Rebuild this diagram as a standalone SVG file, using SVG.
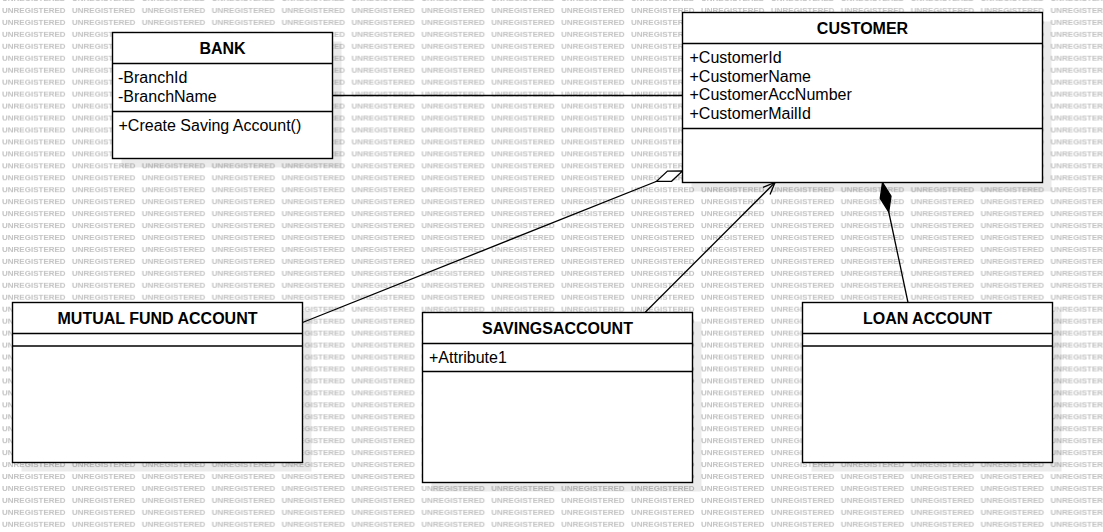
<svg xmlns="http://www.w3.org/2000/svg" width="1103" height="532" viewBox="0 0 1103 532">
<style>
.wm{font-family:"Liberation Sans",Arial,sans-serif;font-size:8px;font-weight:bold;fill:#c2c2c2}
.box{fill:#fff;stroke:#000;stroke-width:1.4}
.sh{fill:#000;fill-opacity:0.08}
.sep{stroke:#000;stroke-width:1.4}
.title{font-family:"Liberation Sans",Arial,sans-serif;font-size:16px;font-weight:bold;fill:#000;text-anchor:middle}
.attr{font-family:"Liberation Sans",Arial,sans-serif;font-size:16px;fill:#000}
.conn{stroke:#000;stroke-width:1.3;fill:none}
</style>
<defs>
<pattern id="wmp" patternUnits="userSpaceOnUse" x="2" y="4" width="69.9" height="11.95">
<text class="wm" x="0" y="8.9">UNREGISTERED</text>
</pattern>
<marker id="hollowDiamond" markerUnits="userSpaceOnUse" markerWidth="30" markerHeight="12" refX="28" refY="0" orient="auto" style="overflow:visible">
<path d="M0,0 L14,-5.5 L28,0 L14,5.5 Z" fill="#fff" stroke="#000" stroke-width="1.3"/>
</marker>
<marker id="filledDiamond" markerUnits="userSpaceOnUse" markerWidth="32" markerHeight="12" refX="30" refY="0" orient="auto" style="overflow:visible">
<path d="M0,0 L15,-5.5 L30,0 L15,5.5 Z" fill="#000" stroke="#000" stroke-width="1.3"/>
</marker>
<marker id="openArrow" markerUnits="userSpaceOnUse" markerWidth="14" markerHeight="12" refX="0" refY="0" orient="auto" style="overflow:visible">
<path d="M-12,-5 L0,0 L-12,5" fill="none" stroke="#000" stroke-width="1.3"/>
</marker>
</defs>
<rect x="0" y="0" width="1103" height="532" fill="#fff"/>
<rect x="0" y="0" width="1103" height="532" fill="url(#wmp)"/>

<g id="connectors">
<line class="conn" x1="332.5" y1="95.5" x2="682.5" y2="95.5"/>
<line class="conn" x1="302.5" y1="322.5" x2="682.5" y2="171" marker-end="url(#hollowDiamond)"/>
<line class="conn" x1="645" y1="312.5" x2="775" y2="182.5" marker-end="url(#openArrow)"/>
<line class="conn" x1="908" y1="302.5" x2="882.5" y2="182.5" marker-end="url(#filledDiamond)"/>
</g>

<g id="bank">
<rect class="sh" x="121.5" y="41.5" width="220" height="126"/>
<rect class="box" x="112.5" y="32.5" width="220" height="126"/>
<line class="sep" x1="112.5" y1="63.5" x2="332.5" y2="63.5"/>
<line class="sep" x1="112.5" y1="111.5" x2="332.5" y2="111.5"/>
<text class="title" x="222.5" y="54.3">BANK</text>
<text class="attr" x="118" y="83.3">-BranchId</text>
<text class="attr" x="118" y="101.5">-BranchName</text>
<text class="attr" x="118.5" y="130.5">+Create Saving Account()</text>
</g>

<g id="customer">
<rect class="sh" x="691.5" y="21.5" width="360" height="170"/>
<rect class="box" x="682.5" y="12.5" width="360" height="170"/>
<line class="sep" x1="682.5" y1="43.5" x2="1042.5" y2="43.5"/>
<line class="sep" x1="682.5" y1="128.5" x2="1042.5" y2="128.5"/>
<text class="title" x="862.5" y="34">CUSTOMER</text>
<text class="attr" x="689.5" y="63.3">+CustomerId</text>
<text class="attr" x="689.5" y="81.8">+CustomerName</text>
<text class="attr" x="689.5" y="100.3">+CustomerAccNumber</text>
<text class="attr" x="689.5" y="118.8">+CustomerMailId</text>
</g>

<g id="mutual-fund-account">
<rect class="sh" x="21.5" y="311.5" width="290" height="160"/>
<rect class="box" x="12.5" y="302.5" width="290" height="160"/>
<line class="sep" x1="12.5" y1="333.5" x2="302.5" y2="333.5"/>
<line class="sep" x1="12.5" y1="346" x2="302.5" y2="346"/>
<text class="title" x="157.5" y="324.3">MUTUAL FUND ACCOUNT</text>
</g>

<g id="savingsaccount">
<rect class="sh" x="431.5" y="321.5" width="270" height="170"/>
<rect class="box" x="422.5" y="312.5" width="270" height="170"/>
<line class="sep" x1="422.5" y1="343.5" x2="692.5" y2="343.5"/>
<line class="sep" x1="422.5" y1="371.5" x2="692.5" y2="371.5"/>
<text class="title" x="557.5" y="334">SAVINGSACCOUNT</text>
<text class="attr" x="429" y="363.3">+Attribute1</text>
</g>

<g id="loan-account">
<rect class="sh" x="811.5" y="311.5" width="250" height="160"/>
<rect class="box" x="802.5" y="302.5" width="250" height="160"/>
<line class="sep" x1="802.5" y1="333.5" x2="1052.5" y2="333.5"/>
<line class="sep" x1="802.5" y1="346" x2="1052.5" y2="346"/>
<text class="title" x="927.5" y="324">LOAN ACCOUNT</text>
</g>
</svg>
